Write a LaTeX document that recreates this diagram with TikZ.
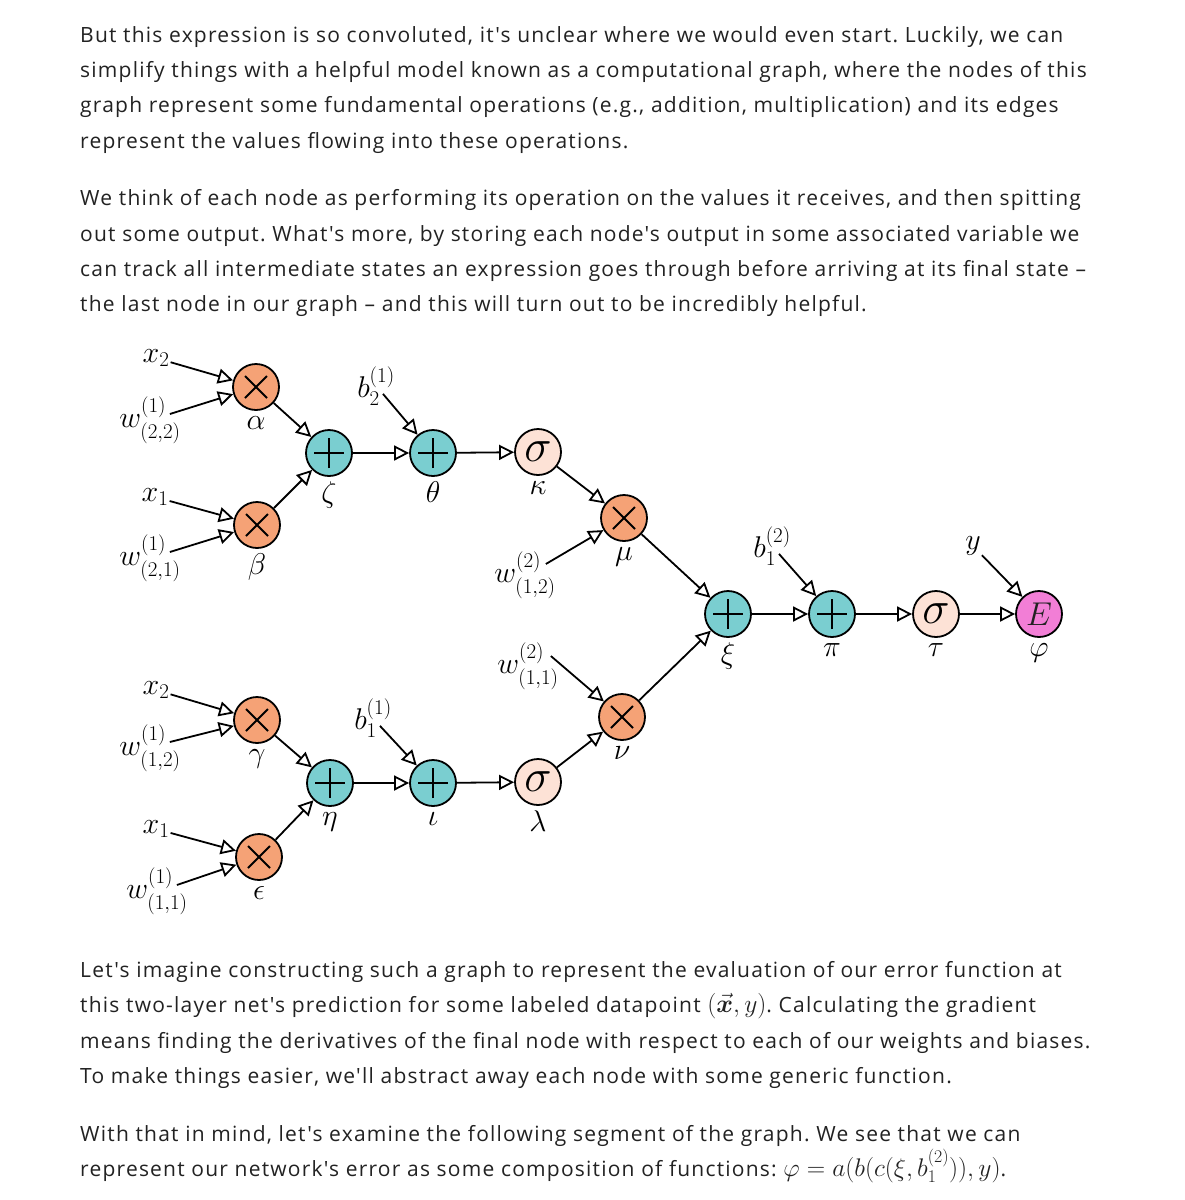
\RequirePackage{fix-cm}
\documentclass[tikz,border=0pt]{standalone}
\usepackage{amsmath}
\usepackage{amssymb}
\usepackage{bm}
\usepackage{fontspec}
\setmainfont{Open Sans}[Ligatures=TeXOff,LetterSpace=5.8]
\usepackage{tikz}
\usetikzlibrary{arrows.meta, positioning, calc}
\definecolor{multorange}{RGB}{245, 162, 118}
\definecolor{addteal}{RGB}{122, 206, 208}
\definecolor{sigpink}{RGB}{253, 226, 214}
\definecolor{errpink}{RGB}{242, 126, 214}
\definecolor{bodygray}{RGB}{34, 34, 34}
\newcommand{\bodyfont}{\frenchspacing\fontsize{21}{25}\selectfont}
\newcommand{\diagfont}{\fontsize{30}{33}\selectfont}
\newcommand{\inmath}[1]{{\fontsize{25.5}{25}\selectfont$#1$}}

\begin{document}
\begin{tikzpicture}[x=1pt,y=1pt,
	op/.style={circle,draw=black,line width=1.8pt,minimum size=46pt,inner sep=0pt},
	mul/.style={op,fill=multorange,path picture={
		\draw[line width=1.8pt] ([shift={(-11,-11)}]path picture bounding box.center)--([shift={(11,11)}]path picture bounding box.center);
		\draw[line width=1.8pt] ([shift={(-11,11)}]path picture bounding box.center)--([shift={(11,-11)}]path picture bounding box.center);}},
	add/.style={op,fill=addteal,path picture={
		\draw[line width=1.8pt] ([xshift=-15pt]path picture bounding box.center)--([xshift=15pt]path picture bounding box.center);
		\draw[line width=1.8pt] ([yshift=-15pt]path picture bounding box.center)--([yshift=15pt]path picture bounding box.center);}},
	sig/.style={op,fill=sigpink,font=\fontsize{46}{46}\selectfont},
	err/.style={op,fill=errpink,font=\fontsize{33}{33}\selectfont},
	every label/.style={font=\diagfont,inner sep=1pt},
	label distance=4pt,
	inp/.style={font=\diagfont,inner sep=1pt},
	flow/.style={line width=1.8pt,-{Triangle[open,length=15pt,width=15pt]}},
	txt/.style={anchor=base west,inner sep=0pt,font=\bodyfont,text=bodygray}]
	\useasboundingbox[fill=white] (0,0) rectangle (1185,-1200);

	% text above
	\node[txt] (p1a) at (80,-42) {But this expression is so convoluted, it's unclear where we would even start. Luckily, we can};
	\node[txt] (p1b) at (80,-77) {simplify things with a helpful model known as a computational graph, where the nodes of this};
	\node[txt] (p1c) at (80,-112) {graph represent some fundamental operations (e.g., addition, multiplication) and its edges};
	\node[txt] (p1d) at (80,-148) {represent the values flowing into these operations.};
	\node[txt] (p2a) at (80,-205) {We think of each node as performing its operation on the values it receives, and then spitting};
	\node[txt] (p2b) at (80,-241) {out some output. What's more, by storing each node's output in some associated variable we};
	\node[txt] (p2c) at (80,-276) {can track all intermediate states an expression goes through before arriving at its final state –};
	\node[txt] (p2d) at (80,-311) {the last node in our graph – and this will turn out to be incredibly helpful.};

	% operations
	\node[mul,label=below:$\alpha$] (alpha) at (256,-387) {};
	\node[mul,label=below:$\beta$] (beta) at (257,-525) {};
	\node[add,label=below:$\zeta$] (zeta) at (329,-453) {};
	\node[add,label=below:$\theta$] (theta) at (433,-453) {};
	\node[sig,label=below:$\kappa$] (kappa) at (538,-452) {$\sigma$};
	\node[mul,label=below:$\mu$] (mu) at (624,-518) {};
	\node[mul,label=below:$\gamma$] (gamma) at (257,-720) {};
	\node[mul,label=below:$\epsilon$] (eps) at (259,-857) {};
	\node[add,label=below:$\eta$] (eta) at (330,-783) {};
	\node[add,label=below:$\iota$] (iota) at (433,-783) {};
	\node[sig,label=below:$\lambda$] (lambda) at (538,-782) {$\sigma$};
	\node[mul,label=below:$\nu$] (nu) at (622,-717) {};
	\node[add,label=below:$\xi$] (xi) at (728,-614) {};
	\node[add,label=below:$\pi$] (pi) at (832,-614) {};
	\node[sig,label=below:$\tau$] (tau) at (936,-614) {$\sigma$};
	\node[err,label=below:$\varphi$] (phi) at (1039,-614) {\color{bodygray}$E$};

	% inputs
	\node[inp] (x2a) at (156,-358) {$x_2$};
	\node[inp] (w22) at (150,-420) {$w^{(1)}_{(2,2)}$};
	\node[inp] (x1a) at (155,-497) {$x_1$};
	\node[inp] (w21) at (150,-558) {$w^{(1)}_{(2,1)}$};
	\node[inp] (x2b) at (156,-690) {$x_2$};
	\node[inp] (w12) at (150,-748) {$w^{(1)}_{(1,2)}$};
	\node[inp] (x1b) at (156,-829) {$x_1$};
	\node[inp] (w11) at (157,-891) {$w^{(1)}_{(1,1)}$};
	\node[inp] (b2a) at (376,-386) {$b^{(1)}_2$};
	\node[inp] (b1a) at (373,-718) {$b^{(1)}_1$};
	\node[inp] (w2a) at (525,-575) {$w^{(2)}_{(1,2)}$};
	\node[inp] (w2b) at (528,-666) {$w^{(2)}_{(1,1)}$};
	\node[inp] (b1b) at (772,-546) {$b^{(2)}_1$};
	\node[inp] (ylab) at (973,-546) {$y$};

	% edges
	\draw[flow] (x2a) -- (alpha);
	\draw[flow] ([xshift=-12pt,yshift=6pt]w22.east) -- (alpha);
	\draw[flow] (x1a) -- (beta);
	\draw[flow] ([xshift=-12pt,yshift=6pt]w21.east) -- (beta);
	\draw[flow] (x2b) -- (gamma);
	\draw[flow] ([xshift=-12pt,yshift=6pt]w12.east) -- (gamma);
	\draw[flow] (x1b) -- (eps);
	\draw[flow] ([xshift=-12pt,yshift=6pt]w11.east) -- (eps);
	\draw[flow] ([xshift=-13pt,yshift=13pt]b2a.south east) -- (theta);
	\draw[flow] ([xshift=-13pt,yshift=13pt]b1a.south east) -- (iota);
	\draw[flow] ([xshift=-11pt,yshift=11pt]w2a.east) -- (mu);
	\draw[flow] ([xshift=-9pt,yshift=10pt]w2b.east) -- (nu);
	\draw[flow] ([xshift=-13pt,yshift=13pt]b1b.south east) -- (pi);
	\draw[flow] (ylab) -- (phi);
	\draw[flow] (alpha) -- (zeta);
	\draw[flow] (beta) -- (zeta);
	\draw[flow] (zeta) -- (theta);
	\draw[flow] (theta) -- (kappa);
	\draw[flow] (kappa) -- (mu);
	\draw[flow] (mu) -- (xi);
	\draw[flow] (gamma) -- (eta);
	\draw[flow] (eps) -- (eta);
	\draw[flow] (eta) -- (iota);
	\draw[flow] (iota) -- (lambda);
	\draw[flow] (lambda) -- (nu);
	\draw[flow] (nu) -- (xi);
	\draw[flow] (xi) -- (pi);
	\draw[flow] (pi) -- (tau);
	\draw[flow] (tau) -- (phi);

	% text below
	\node[txt] (p3a) at (80,-977) {Let's imagine constructing such a graph to represent the evaluation of our error function at};
	\node[txt] (p3b) at (80,-1012) {this two-layer net's prediction for some labeled datapoint \inmath{(\vec{\bm{x}},y)}. Calculating the gradient};
	\node[txt] (p3c) at (80,-1048) {means finding the derivatives of the final node with respect to each of our weights and biases.};
	\node[txt] (p3d) at (80,-1083) {To make things easier, we'll abstract away each node with some generic function.};
	\node[txt] (p4a) at (80,-1141) {With that in mind, let's examine the following segment of the graph. We see that we can};
	\node[txt] (p4b) at (80,-1176) {represent our network's error as some composition of functions: \inmath{\varphi=a(b(c(\xi,b^{(2)}_1)),y)}.};
\end{tikzpicture}
\end{document}
